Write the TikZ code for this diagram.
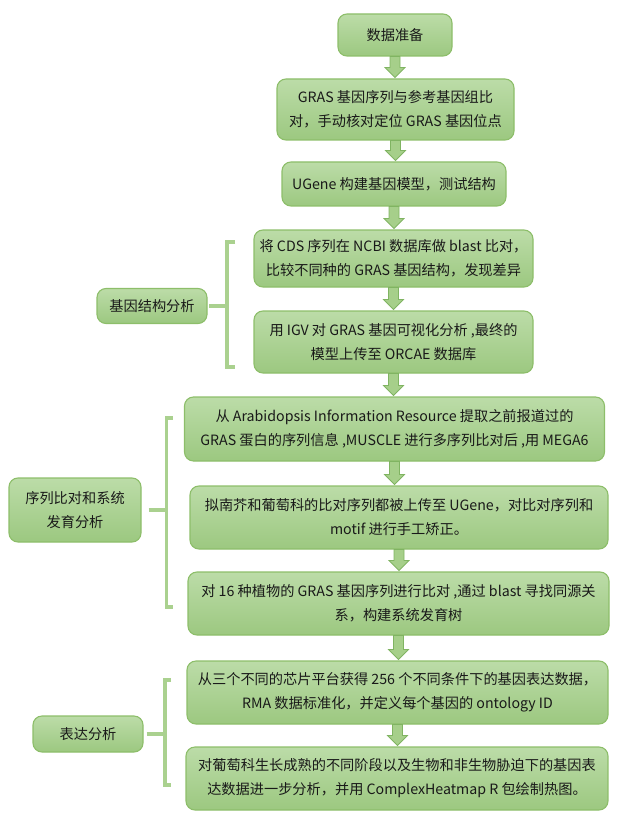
\documentclass[tikz,border=0pt]{standalone}
\usepackage{fontspec}
\setmainfont{Noto Sans CJK SC}
\usetikzlibrary{calc}

\definecolor{boxtop}{RGB}{188,220,168}
\definecolor{boxbot}{RGB}{156,200,128}
\definecolor{boxline}{RGB}{141,190,106}
\definecolor{arrowfill}{RGB}{166,207,138}
\definecolor{arrowline}{RGB}{128,180,98}
\definecolor{bracecol}{RGB}{170,209,143}
\definecolor{ink}{RGB}{25,25,25}

\tikzset{
  stepbox/.style={draw=boxline, line width=1.1pt, rounded corners=9pt,
    top color=boxtop, bottom color=boxbot, text=ink, align=center,
    inner sep=2pt, font=\fontsize{14.2}{24}\selectfont},
  groupbox/.style={stepbox},
  flow/.style={fill=arrowfill, draw=arrowline, line width=0.8pt, line join=miter},
  brace/.style={draw=bracecol, line width=3.5pt},
  stem/.style={draw=bracecol, line width=4.5pt}
}

% block arrow from the bottom of #1 to the top of #2
\newcommand\flowarrow[2]{%
  \path[flow] let \p1=(#1.south), \p2=(#2.north) in
    (\x1-5pt,\y1) -- (\x1+5pt,\y1) -- (\x1+5pt,\y2+11pt) -- (\x1+10pt,\y2+11pt)
    -- (\x1,\y2+1pt) -- (\x1-10pt,\y2+11pt) -- (\x1-5pt,\y2+11pt) -- cycle;
}

\begin{document}
\begin{tikzpicture}[x=1pt, y=-1pt]
  \useasboundingbox (0,0) rectangle (638,826);

  % main column
  \node[stepbox, minimum width=114pt, minimum height=42pt] (prep) at (395,35) {数据准备};
  \node[stepbox, minimum width=237pt, minimum height=61pt] (align) at (395.5,109.5)
    {GRAS 基因序列与参考基因组比\\对，手动核对定位 GRAS 基因位点};
  \node[stepbox, minimum width=224pt, minimum height=44pt] (ugene) at (394,184)
    {UGene 构建基因模型，测试结构};
  \node[stepbox, minimum width=279pt, minimum height=57pt] (blast) at (393.5,258.5)
    {将 CDS 序列在 NCBI 数据库做 blast 比对，\\比较不同种的 GRAS 基因结构，发现差异};
  \node[stepbox, minimum width=279pt, minimum height=62pt] (igv) at (393.5,342)
    {用 IGV 对 GRAS 基因可视化分析 ,最终的\\模型上传至 ORCAE 数据库};
  \node[stepbox, minimum width=420pt, minimum height=64pt] (tair) at (394.5,429)
    {从 Arabidopsis Information Resource 提取之前报道过的\\GRAS 蛋白的序列信息 ,MUSCLE 进行多序列比对后 ,用 MEGA6};
  \node[stepbox, minimum width=418pt, minimum height=63pt] (motif) at (399,517.5)
    {拟南芥和葡萄科的比对序列都被上传至 UGene，对比对序列和\\motif 进行手工矫正。};
  \node[stepbox, minimum width=421pt, minimum height=63pt] (tree) at (398.5,603.5)
    {对 16 种植物的 GRAS 基因序列进行比对 ,通过 blast 寻找同源关\\系，构建系统发育树};
  \node[stepbox, minimum width=421pt, minimum height=63pt] (chip) at (397.5,692.5)
    {从三个不同的芯片平台获得 256 个不同条件下的基因表达数据，\\RMA 数据标准化，并定义每个基因的 ontology ID};
  \node[stepbox, minimum width=422pt, minimum height=63pt] (heat) at (397,778.5)
    {对葡萄科生长成熟的不同阶段以及生物和非生物胁迫下的基因表\\达数据进一步分析，并用 ComplexHeatmap R 包绘制热图。};

  % arrows
  \flowarrow{prep}{align}
  \flowarrow{align}{ugene}
  \flowarrow{ugene}{blast}
  \flowarrow{blast}{igv}
  \flowarrow{igv}{tair}
  \flowarrow{tair}{motif}
  \flowarrow{motif}{tree}
  \flowarrow{tree}{chip}
  \flowarrow{chip}{heat}

  % groups on the left
  \node[groupbox, minimum width=110pt, minimum height=35pt] (gene) at (152,306) {基因结构分析};
  \node[groupbox, minimum width=132pt, minimum height=64pt] (phylo) at (75,510)
    {序列比对和系统\\发育分析};
  \node[groupbox, minimum width=110pt, minimum height=36pt] (expr) at (88,734) {表达分析};

  \coordinate (geneTop) at (227,242);
  \coordinate (geneBot) at (227,367);
  \coordinate (phyloTop) at (166.5,418);
  \coordinate (phyloBot) at (166.5,607);
  \coordinate (exprTop) at (165,680);
  \coordinate (exprBot) at (165,785);

  \draw[brace] ([xshift=8pt]geneTop) -- (geneTop) -- (geneBot) -- ([xshift=8pt]geneBot);
  \draw[brace] ([xshift=6pt]phyloTop) -- (phyloTop) -- (phyloBot) -- ([xshift=6pt]phyloBot);
  \draw[brace] ([xshift=6pt]exprTop) -- (exprTop) -- (exprBot) -- ([xshift=6pt]exprBot);

  \draw[stem] ([xshift=1.5pt]gene.east) -- (gene.east -| geneTop);
  \draw[stem] ([xshift=7pt]phylo.east) -- (phylo.east -| phyloTop);
  \draw[stem] ([xshift=3pt]expr.east) -- (expr.east -| exprTop);
\end{tikzpicture}
\end{document}
